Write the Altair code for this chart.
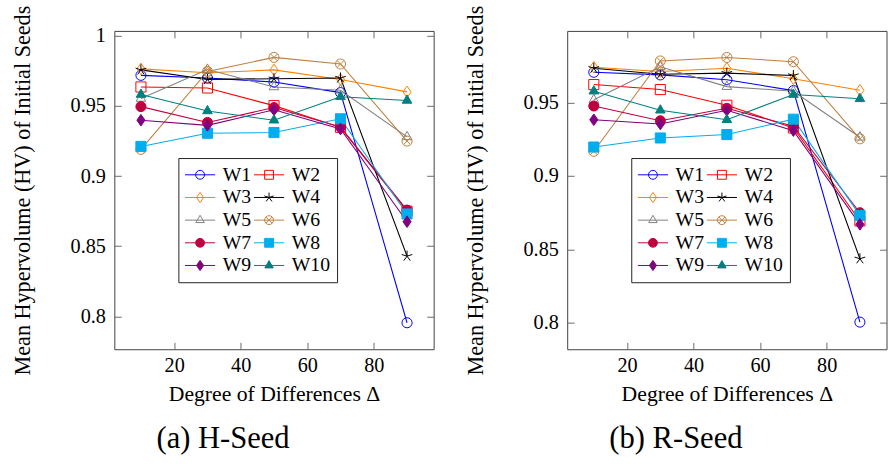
import altair as alt
import pandas as pd

# ---------------- data ----------------
X_VALUES = [10, 30, 50, 70, 90]
SERIES = ["W1", "W2", "W3", "W4", "W5", "W6", "W7", "W8", "W9", "W10"]

H_W1 = [0.9719, 0.9700, 0.9671, 0.9596, 0.7954]
H_W2 = [0.9636, 0.9629, 0.9503, 0.9348, 0.8750]
H_W3 = [0.9765, 0.9737, 0.9758, 0.9690, 0.9601]
H_W4 = [0.9758, 0.9690, 0.9695, 0.9700, 0.8429]
H_W5 = [0.9554, 0.9761, 0.9636, 0.9613, 0.9280]
H_W6 = [0.9191, 0.9747, 0.9847, 0.9800, 0.9250]
H_W7 = [0.9496, 0.9383, 0.9489, 0.9350, 0.8758]
H_W8 = [0.9212, 0.9306, 0.9311, 0.9409, 0.8730]
H_W9 = [0.9399, 0.9362, 0.9473, 0.9336, 0.8675]
H_W10 = [0.9582, 0.9465, 0.9399, 0.9566, 0.9540]

R_W1 = [0.9708, 0.9690, 0.9657, 0.9583, 0.8004]
R_W2 = [0.9624, 0.9590, 0.9483, 0.9328, 0.8694]
R_W3 = [0.9742, 0.9713, 0.9735, 0.9664, 0.9585]
R_W4 = [0.9735, 0.9695, 0.9702, 0.9686, 0.8436]
R_W5 = [0.9520, 0.9745, 0.9610, 0.9579, 0.9265]
R_W6 = [0.9169, 0.9785, 0.9809, 0.9780, 0.9254]
R_W7 = [0.9478, 0.9377, 0.9462, 0.9340, 0.8750]
R_W8 = [0.9198, 0.9260, 0.9283, 0.9388, 0.8732]
R_W9 = [0.9384, 0.9355, 0.9449, 0.9310, 0.8671]
R_W10 = [0.9579, 0.9449, 0.9384, 0.9556, 0.9527]

H_SEED = [H_W1, H_W2, H_W3, H_W4, H_W5, H_W6, H_W7, H_W8, H_W9, H_W10]
R_SEED = [R_W1, R_W2, R_W3, R_W4, R_W5, R_W6, R_W7, R_W8, R_W9, R_W10]

H_Y_TICKS = [0.8, 0.85, 0.9, 0.95, 1.0]
R_Y_TICKS = [0.8, 0.85, 0.9, 0.95]
X_TICKS = [20, 40, 60, 80]

# ---------------- styles ----------------
COLORS = ["#0000FF", "#FF0000", "#FF8000", "#000000", "#808080",
          "#BF8040", "#BF0040", "#00AEEF", "#800080", "#008080"]
FILLS = ["transparent"] * 6 + ["#BF0040", "#00AEEF", "#800080", "#008080"]

CIRCLE = "M1,0A1,1 0 1,1 -1,0A1,1 0 1,1 1,0Z"
SQUARE = "M-1,-1H1V1H-1Z"
DIAMOND = "M0,-1.15L0.8,0L0,1.15L-0.8,0Z"
STAR = ("M0,0L0,-1.1M0,0L1.05,-0.34M0,0L0.65,0.89"
        "M0,0L-0.65,0.89M0,0L-1.05,-0.34")
TRIANGLE = "M0,-1.1L0.95,0.55L-0.95,0.55Z"
OTIMES = CIRCLE + "M-0.707,-0.707L0.707,0.707M-0.707,0.707L0.707,-0.707"
MARKERS = [CIRCLE, SQUARE, DIAMOND, STAR, TRIANGLE, OTIMES,
           CIRCLE, SQUARE, DIAMOND, TRIANGLE]
LEG_LINE = "M-3.4,0H3.4"
LEGEND_PATHS = [LEG_LINE + m for m in MARKERS]

FONT = "Liberation Serif"
FRAME = "#404040"
TICK = "#6a6a6a"


def shape_expr():
    arr = "[" + ",".join("'" + m + "'" for m in MARKERS) + "]"
    names = "[" + ",".join("'" + s + "'" for s in SERIES) + "]"
    return arr + "[indexof(" + names + ", datum.series)]"


def panel(values, y_domain, y_ticks, caption, right_ticks):
    rows = []
    for s, vals in zip(SERIES, values):
        for xv, yv in zip(X_VALUES, vals):
            rows.append({"series": s, "x": xv, "y": yv})
    df = pd.DataFrame(rows)
    base = alt.Chart(df)

    xs = alt.Scale(domain=[2, 98], nice=False, zero=False)
    ys = alt.Scale(domain=y_domain, nice=False, zero=False)
    col = alt.Color("series:N", scale=alt.Scale(domain=SERIES, range=COLORS), legend=None)
    fil = alt.Fill("series:N", scale=alt.Scale(domain=SERIES, range=FILLS), legend=None)

    x_main = alt.Axis(orient="bottom", offset=-7, tickSize=7, values=X_TICKS,
                      domain=False, grid=False, tickColor=TICK, tickWidth=1,
                      labelFont=FONT, labelFontSize=20.5, labelColor="black",
                      labelPadding=7, title="Degree of Differences Δ",
                      titleFont=FONT, titleFontSize=22, titleFontWeight="normal",
                      titleColor="black", titlePadding=7)
    y_main = alt.Axis(orient="left", offset=-7, tickSize=7, values=y_ticks,
                      format=".2~f", domain=False, grid=False, tickColor=TICK,
                      tickWidth=1, labelFont=FONT, labelFontSize=20.5,
                      labelColor="black", labelPadding=9,
                      title="Mean Hypervolume (HV) of Initial Seeds",
                      titleFont=FONT, titleFontSize=22.5, titleFontWeight="normal",
                      titleColor="black", titlePadding=36)
    x_top = alt.Axis(orient="top", offset=-7, tickSize=7, values=X_TICKS,
                     domain=False, grid=False, labels=False, title=None,
                     tickColor=TICK, tickWidth=1)
    y_right = alt.Axis(orient="right", offset=-7, tickSize=7, values=y_ticks,
                       domain=False, grid=False, labels=False, title=None,
                       tickColor=TICK, tickWidth=1, ticks=right_ticks)

    leg = alt.Legend(orient="none", legendX=65, legendY=129, columns=2,
                     direction="horizontal", title=None,
                     labelFont=FONT, labelFontSize=20, labelColor="black",
                     labelLimit=0, symbolSize=81, symbolStrokeWidth=1,
                     symbolOffset=5, labelOffset=13, symbolOpacity=1,
                     symbolFillColor="transparent", strokeColor="#222222",
                     fillColor="white", padding=7, rowPadding=3, columnPadding=0)
    legend_layer = base.mark_point(opacity=0).encode(
        x=alt.X("x:Q", scale=xs, axis=None),
        y=alt.Y("y:Q", scale=ys, axis=None),
        color=alt.Color("series:N", scale=alt.Scale(domain=SERIES, range=COLORS), legend=leg),
        fill=alt.Fill("series:N", scale=alt.Scale(domain=SERIES, range=FILLS), legend=leg),
        shape=alt.Shape("series:N", scale=alt.Scale(domain=SERIES, range=LEGEND_PATHS), legend=leg),
    )
    lines = base.mark_line(strokeWidth=1.1, clip=True).encode(
        x=alt.X("x:Q", scale=xs, axis=x_main),
        y=alt.Y("y:Q", scale=ys, axis=y_main),
        color=col,
    )
    points = base.mark_point(size=105, strokeWidth=1, opacity=1, clip=True).transform_calculate(
        mk=shape_expr()
    ).encode(
        x=alt.X("x:Q", scale=xs, axis=x_top),
        y=alt.Y("y:Q", scale=ys, axis=y_right),
        color=col,
        fill=fil,
        shape=alt.Shape("mk:N", scale=None),
    )
    return alt.layer(legend_layer, lines, points).resolve_axis(
        x="independent", y="independent"
    ).properties(
        width=324, height=323,
        title=alt.TitleParams(caption, orient="bottom", anchor="middle", frame="bounds",
                              font=FONT, fontSize=31, fontWeight="normal",
                              color="black", offset=21),
    )


left = panel(H_SEED, [0.7765, 1.0036], H_Y_TICKS, "(a) H-Seed", True)
right = panel(R_SEED, [0.7819, 0.9990], R_Y_TICKS, "(b) R-Seed", True)

chart = alt.hconcat(left, right, spacing=135.5, bounds="flush").resolve_scale(
    color="independent", fill="independent", shape="independent"
).properties(
    padding={"left": 11, "top": 1, "right": 0, "bottom": 2}
).configure_view(stroke=FRAME, strokeWidth=1)

chart.save("out.html", embed_options={"renderer": "svg", "actions": False})
